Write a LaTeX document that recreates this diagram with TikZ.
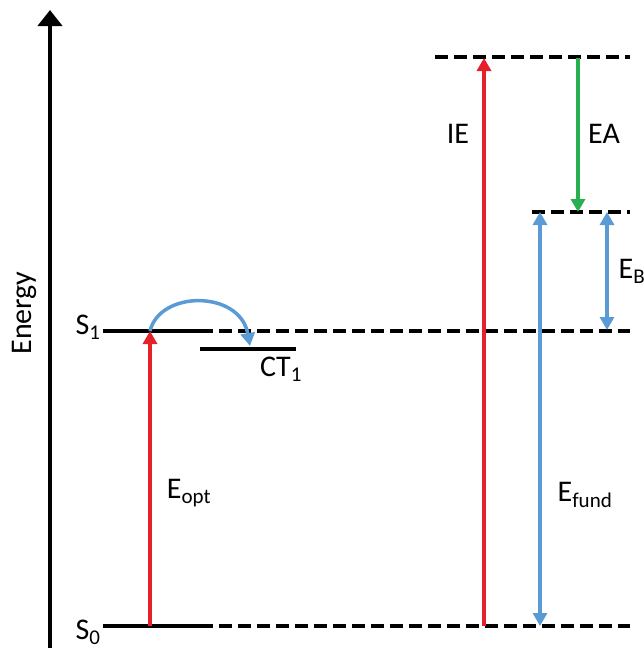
\documentclass[tikz,border=0pt]{standalone}
\usepackage{fontspec}
\setmainfont{Carlito}
\usetikzlibrary{arrows.meta}
\definecolor{rouge}{RGB}{230,32,40}
\definecolor{vert}{RGB}{40,176,80}
\definecolor{bleu}{RGB}{91,155,213}
\tikzset{
  niveau/.style = {line width=4.5pt},
  niveaupt/.style = {line width=4.5pt, dash pattern=on 13pt off 6pt},
  fleche/.style = {line width=3.5pt, -{Triangle[width=14pt,length=13pt]}},
  double/.style = {line width=3.5pt, {Triangle[width=14pt,length=13pt]}-{Triangle[width=14pt,length=13pt]}},
  lettre/.style = {font=\fontsize{30}{34}\selectfont, inner sep=0pt}
}
\begin{document}
\begin{tikzpicture}[x=1pt, y=-1pt]
  \useasboundingbox (0,0) rectangle (644,648);

  % L'axe
  \coordinate (bas) at (50,648);
  \coordinate (haut) at (50,10);
  \draw[line width=4.5pt, -{Triangle[width=24pt,length=16pt]}] (bas) -- (haut);
  \node[lettre, rotate=90] (energie) at (24,313) {Energy};

  % Les niveaux
  \coordinate (s0a) at (103,626);
  \coordinate (s0b) at (200,626);
  \coordinate (s0c) at (630,626);
  \coordinate (s1a) at (103,331);
  \coordinate (s1b) at (200,331);
  \coordinate (s1c) at (630,331);
  \coordinate (cta) at (200,349);
  \coordinate (ctb) at (296,349);
  \coordinate (iea) at (435,57);
  \coordinate (ieb) at (630,57);
  \coordinate (eaa) at (532,212);
  \coordinate (eab) at (630,212);
  \draw[niveau] (s0a) -- (s0b);
  \draw[niveaupt] (s0b) -- (s0c);
  \draw[niveau] (s1a) -- (s1b);
  \draw[niveaupt] (s1b) -- (s1c);
  \draw[niveau] (cta) -- (ctb);
  \draw[niveaupt] (iea) -- (ieb);
  \draw[niveaupt] (eaa) -- (eab);

  % Les fleches
  \coordinate (opt0) at (150,626);
  \coordinate (opt1) at (150,331);
  \coordinate (ct1) at (250,346);
  \coordinate (ie0) at (484,626);
  \coordinate (ie1) at (484,58);
  \coordinate (ea0) at (578,58);
  \coordinate (ea1) at (578,212);
  \coordinate (fd0) at (540,626);
  \coordinate (fd1) at (540,212);
  \coordinate (eb0) at (607,330);
  \coordinate (eb1) at (607,212);
  \draw[fleche, rouge] (opt0) -- (opt1);
  \draw[fleche, bleu] (opt1) .. controls (160,290) and (240,290) .. (ct1);
  \draw[fleche, rouge] (ie0) -- (ie1);
  \draw[fleche, vert] (ea0) -- (ea1);
  \draw[double, bleu] (fd0) -- (fd1);
  \draw[double, bleu] (eb0) -- (eb1);

  % Les lettres
  \node[lettre] (ls1) at (88,327) {S\textsubscript{1}};
  \node[lettre] (ls0) at (88,632) {S\textsubscript{0}};
  \node[lettre] (lct) at (281,369) {CT\textsubscript{1}};
  \node[lettre] (lopt) at (189,493) {E\textsubscript{opt}};
  \node[lettre] (lie) at (458,134) {IE};
  \node[lettre] (lea) at (604,134) {EA};
  \node[lettre] (lfd) at (585,495) {E\textsubscript{fund}};
  \node[lettre] (leb) at (632,271) {E\textsubscript{B}};

\end{tikzpicture}
\end{document}
